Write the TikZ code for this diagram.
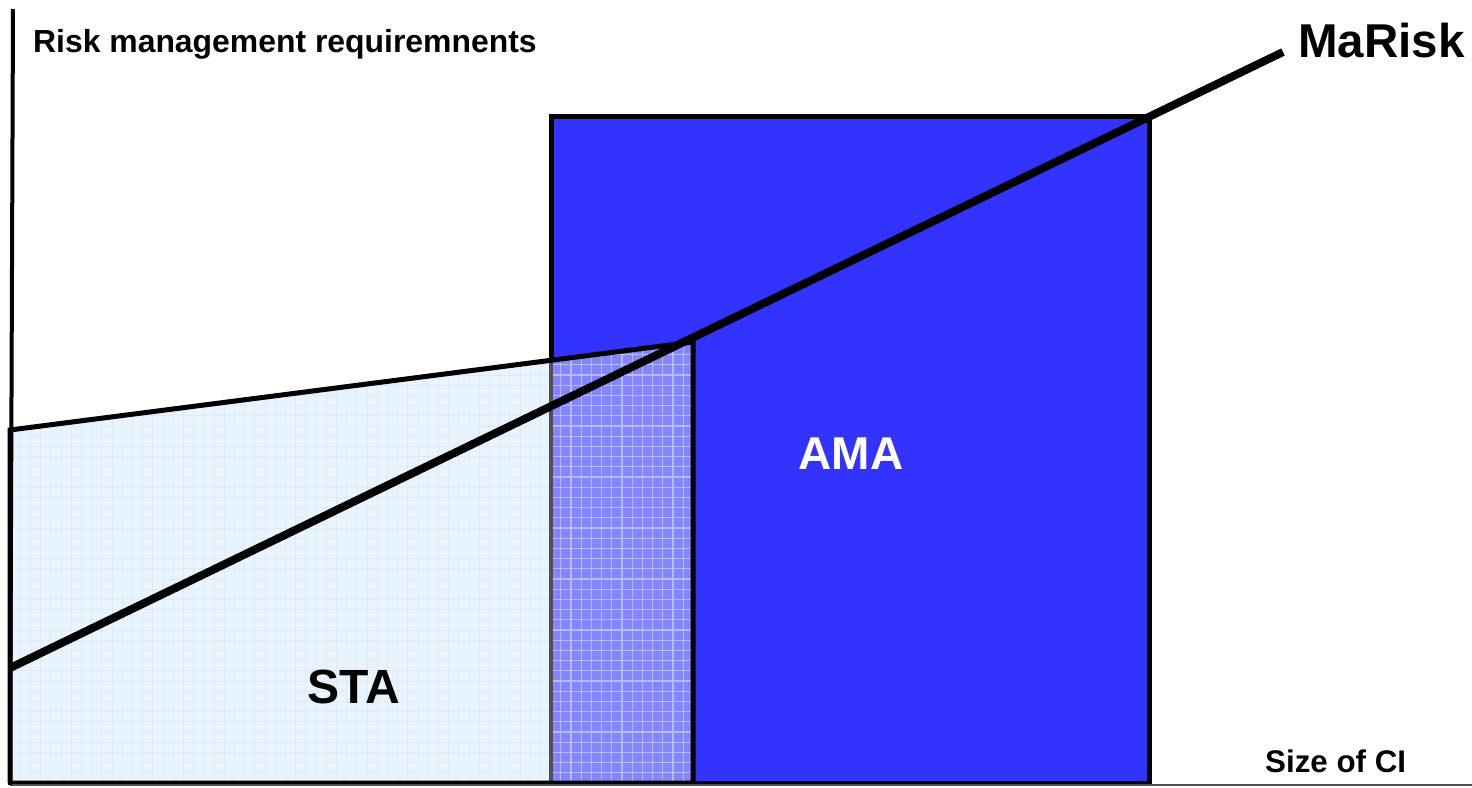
\documentclass[tikz,border=0pt]{standalone}
\usepackage{fontspec}
\setmainfont{Liberation Sans}
\definecolor{amablue}{HTML}{3333FF}
\definecolor{stafill}{HTML}{EAF4FF}
\definecolor{stagrid}{HTML}{DCEAFB}
\definecolor{ovfill}{HTML}{8585FF}
\definecolor{ovgrid}{HTML}{B4BCFF}
\definecolor{axisgray}{HTML}{505050}
\tikzset{
  lbl/.style={font=\bfseries, inner sep=0pt, anchor=base},
  boxline/.style={draw=black, line width=5pt, line join=miter},
  riskline/.style={draw=black, line width=8pt, line cap=butt},
  gridA/.style={draw=stagrid, line width=0.9pt},
  gridB/.style={draw=ovgrid, line width=1.2pt},
}
\begin{document}
\begin{tikzpicture}[x=1pt,y=-1pt]
\useasboundingbox (0,0) rectangle (1472,787);
% coordinates
\coordinate (O) at (10,785);
\coordinate (Ytop) at (13,9);
\coordinate (Xend) at (1472,785);
\coordinate (staTL) at (10,430);
\coordinate (staTR) at (693,342);
\coordinate (staBR) at (693,783);
\coordinate (staBL) at (10,783);
\coordinate (ovTL) at (551,360.3);
\coordinate (ovBL) at (551,783);
\coordinate (amaTL) at (551,116);
\coordinate (amaTR) at (1149,116);
\coordinate (amaBR) at (1149,783);
\coordinate (amaBL) at (551,783);
\coordinate (mrA) at (10,668);
\coordinate (mrB) at (1283,52);
% AMA box fill
\fill[amablue] (amaTL) rectangle (amaBR);
% STA light region with grid
\begin{scope}
\clip (staTL) -- (ovTL) -- (ovBL) -- (staBL) -- cycle;
\fill[stafill] (0,300) rectangle (560,790);
\foreach \k in {0,...,55} \draw[gridA] ({10+\k*10.2},300) -- ({10+\k*10.2},790);
\foreach \k in {0,...,48} \draw[gridA] (0,{783-\k*10.2}) -- (560,{783-\k*10.2});
\end{scope}
% overlap region with grid
\begin{scope}
\clip (ovTL) -- (staTR) -- (staBR) -- (ovBL) -- cycle;
\fill[ovfill] (540,300) rectangle (700,790);
\foreach \k in {53,...,68} \draw[gridB] ({10+\k*10.2},300) -- ({10+\k*10.2},790);
\foreach \k in {0,...,48} \draw[gridB] (540,{783-\k*10.2}) -- (700,{783-\k*10.2});
\end{scope}
% AMA left border seen through STA
\draw[draw=axisgray, line width=4pt] (ovTL) -- (ovBL);
% AMA border (visible parts)
\draw[boxline] (ovTL) -- (amaTL) -- (amaTR) -- (amaBR) -- (amaBL);
% STA border
\draw[boxline] (staBL) -- (staTL) -- (staTR) -- (staBR) -- (staBL);
% axes
\draw[draw=axisgray, line width=1.5pt] (O) -- (Xend);
\draw[draw=black, line width=4pt] (O) -- (Ytop);
% MaRisk line
\draw[riskline] (mrA) -- (mrB);
% labels
\node[lbl, anchor=base west, font=\bfseries\fontsize{31.9}{38}\selectfont] (ylab) at (33,52) {Risk management requiremnents};
\node[lbl, anchor=base west, font=\bfseries\fontsize{47.5}{56}\selectfont] (mr) at (1298,57) {MaRisk};
\node[lbl, font=\bfseries\fontsize{46}{55}\selectfont, text=white] (ama) at (851,469) {AMA};
\node[lbl, font=\bfseries\fontsize{48}{57}\selectfont] (sta) at (354,703) {STA};
\node[lbl, anchor=base west, font=\bfseries\fontsize{31.3}{37}\selectfont] (xlab) at (1265,772) {Size of CI};
\end{tikzpicture}
\end{document}
